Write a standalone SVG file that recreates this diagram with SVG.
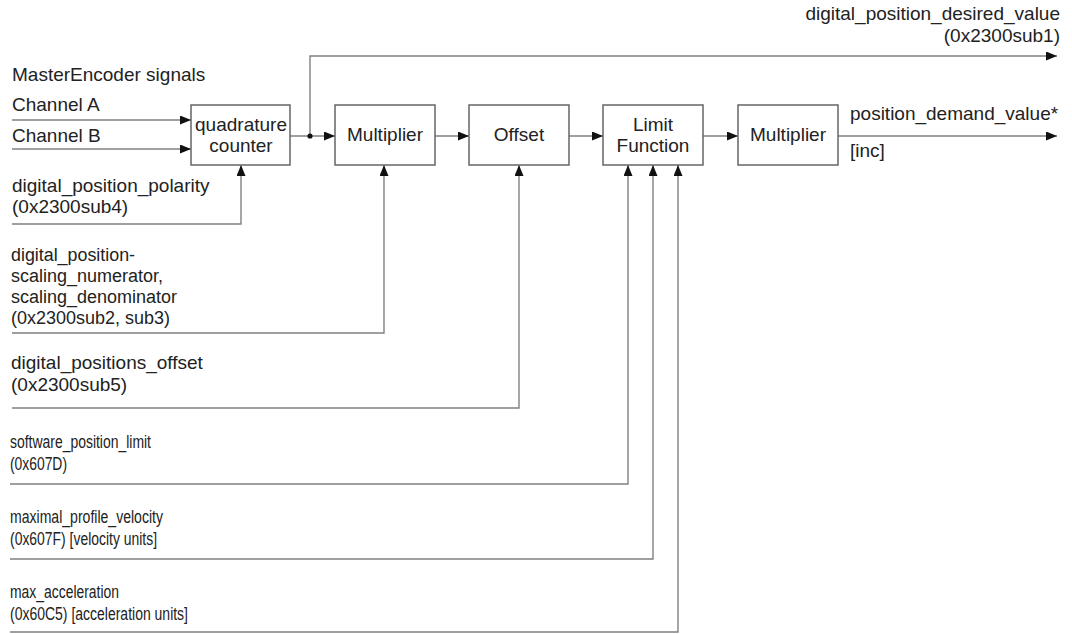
<svg xmlns="http://www.w3.org/2000/svg" width="1072" height="634" viewBox="0 0 1072 634">
<style>
.box{fill:#fff;stroke:#666;stroke-width:1.5}
.ln{fill:none;stroke:#808080;stroke-width:1.4}
text{font-family:"Liberation Sans",Arial,sans-serif;font-size:19px;fill:#222}
.m{font-size:18px}
.s{font-size:17.5px}
.c{text-anchor:middle}
.r{text-anchor:end}
</style>
<defs>
<marker id="ah" markerUnits="userSpaceOnUse" markerWidth="11" markerHeight="9" refX="11" refY="4.5" orient="auto">
<path d="M0,0 L11,4.5 L0,9 z" fill="#111"/>
</marker>
</defs>
<rect width="1072" height="634" fill="#fff"/>
<g id="connectors">
<path class="ln" d="M12,120 H191" marker-end="url(#ah)"/>
<path class="ln" d="M12,149 H191" marker-end="url(#ah)"/>
<path class="ln" d="M12,224 H241 V165" marker-end="url(#ah)"/>
<path class="ln" d="M290,136 H335" marker-end="url(#ah)"/>
<path class="ln" d="M310,136 V56 H1057" marker-end="url(#ah)"/>
<circle cx="310" cy="136" r="2.6" fill="#111"/>
<path class="ln" d="M435,136 H469" marker-end="url(#ah)"/>
<path class="ln" d="M569,136 H603" marker-end="url(#ah)"/>
<path class="ln" d="M703,136 H738" marker-end="url(#ah)"/>
<path class="ln" d="M838,136 H1057" marker-end="url(#ah)"/>
<path class="ln" d="M12,333 H384 V165" marker-end="url(#ah)"/>
<path class="ln" d="M12,408 H519 V165" marker-end="url(#ah)"/>
<path class="ln" d="M10,484 H628 V165" marker-end="url(#ah)"/>
<path class="ln" d="M10,559 H653 V165" marker-end="url(#ah)"/>
<path class="ln" d="M10,632 H678 V165" marker-end="url(#ah)"/>
</g>
<g id="quadrature">
<rect class="box" x="191" y="105" width="99" height="60"/>
<text class="c" x="241" y="131">quadrature</text>
<text class="c" x="241" y="152">counter</text>
</g>
<g id="multiplier1">
<rect class="box" x="335" y="105" width="100" height="60"/>
<text class="c" x="385" y="141">Multiplier</text>
</g>
<g id="offset">
<rect class="box" x="469" y="105" width="100" height="60"/>
<text class="c" x="519" y="141">Offset</text>
</g>
<g id="limit">
<rect class="box" x="603" y="105" width="100" height="60"/>
<text class="c" x="653" y="131">Limit</text>
<text class="c" x="653" y="152">Function</text>
</g>
<g id="multiplier2">
<rect class="box" x="738" y="105" width="100" height="60"/>
<text class="c" x="788" y="141">Multiplier</text>
</g>
<g id="labels">
<text x="12" y="81">MasterEncoder signals</text>
<text x="12" y="111">Channel A</text>
<text x="12" y="142">Channel B</text>
<text x="12" y="192">digital_position_polarity</text>
<text x="12" y="213">(0x2300sub4)</text>
<text class="m" x="11" y="261" textLength="124" lengthAdjust="spacingAndGlyphs">digital_position-</text>
<text class="m" x="11" y="282" textLength="152" lengthAdjust="spacingAndGlyphs">scaling_numerator,</text>
<text class="m" x="11" y="303" textLength="166" lengthAdjust="spacingAndGlyphs">scaling_denominator</text>
<text class="m" x="11" y="324" textLength="159" lengthAdjust="spacingAndGlyphs">(0x2300sub2, sub3)</text>
<text x="11" y="369">digital_positions_offset</text>
<text x="11" y="391">(0x2300sub5)</text>
<text class="s" x="10" y="448" textLength="141" lengthAdjust="spacingAndGlyphs">software_position_limit</text>
<text class="s" x="10" y="470" textLength="57" lengthAdjust="spacingAndGlyphs">(0x607D)</text>
<text class="s" x="10" y="523" textLength="153" lengthAdjust="spacingAndGlyphs">maximal_profile_velocity</text>
<text class="s" x="10" y="545" textLength="147" lengthAdjust="spacingAndGlyphs">(0x607F) [velocity units]</text>
<text class="s" x="10" y="598" textLength="109" lengthAdjust="spacingAndGlyphs">max_acceleration</text>
<text class="s" x="10" y="620" textLength="178" lengthAdjust="spacingAndGlyphs">(0x60C5) [acceleration units]</text>
<text class="r" x="1060" y="20">digital_position_desired_value</text>
<text class="r" x="1060" y="42">(0x2300sub1)</text>
<text x="850" y="120">position_demand_value*</text>
<text x="850" y="157">[inc]</text>
</g>
</svg>
